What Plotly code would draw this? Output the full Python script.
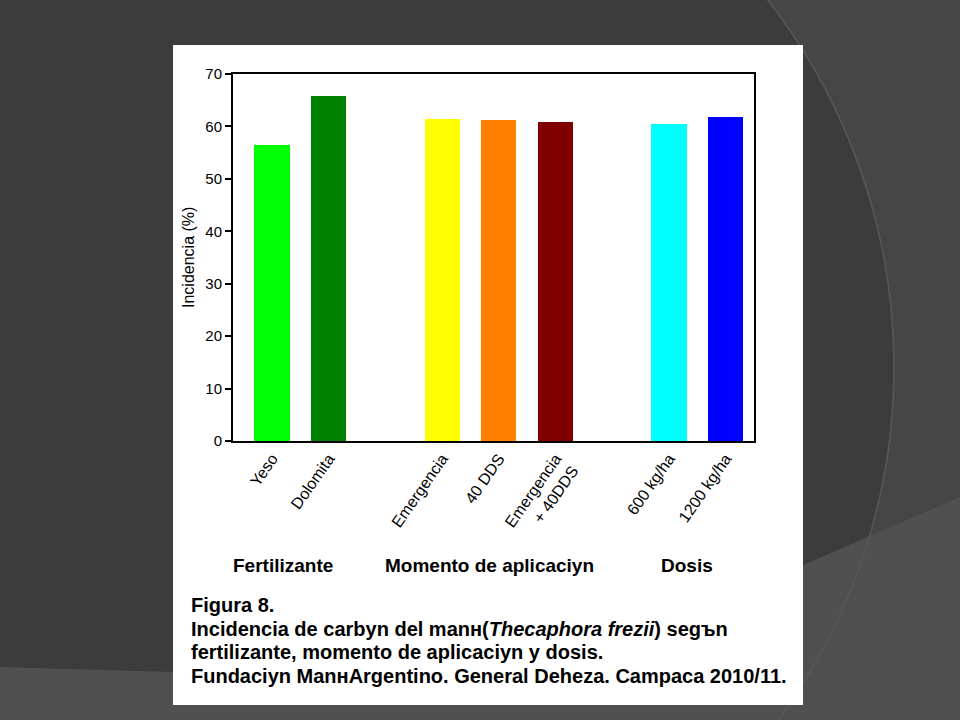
import plotly.graph_objects as go

# ---- data ----
groups = ["Fertilizante", "Momento de aplicaciyn", "Dosis"]
group_items = [
    ["Yeso", "Dolomita"],
    ["Emergencia", "40 DDS", "Emergencia<br>+ 40DDS"],
    ["600 kg/ha", "1200 kg/ha"],
]
group_values = [
    [56.5, 65.8],
    [61.4, 61.2, 60.8],
    [60.5, 61.8],
]
bar_colors = [
    ["#00ff00", "#008000"],
    ["#ffff00", "#ff8000", "#800000"],
    ["#00ffff", "#0000ff"],
]
y_ticks = [0, 10, 20, 30, 40, 50, 60, 70]
y_title = "Incidencia (%)"
caption_lines = [
    "Figura 8.",
    "Incidencia de carbyn del manн(<i>Thecaphora frezii</i>) segъn",
    "fertilizante, momento de aplicaciyn y dosis.",
    "Fundaciyn ManнArgentino. General Deheza. Campaca 2010/11.",
]

# ---- layout geometry (pixels) ----
W, H = 960, 720
PL, PR, PT, PB = 233, 754, 74, 441  # plot area


def px(x):
    return (x - PL) / (PR - PL)


def py(y):
    return (PB - y) / (PB - PT)


# positions: one empty slot between groups
xs, labels, vals, cols = [], [], [], []
slot = 0
for gi, items in enumerate(group_items):
    for j, lab in enumerate(items):
        xs.append(slot)
        labels.append(lab)
        vals.append(group_values[gi][j])
        cols.append(bar_colors[gi][j])
        slot += 1
    slot += 1

fig = go.Figure()
fig.add_trace(go.Bar(
    x=xs, y=vals, marker=dict(color=cols, line=dict(width=0)),
    width=0.62, showlegend=False, hoverinfo="skip",
))

FONT = "Liberation Sans, Arial, sans-serif"

shapes = []
# background
shapes.append(dict(type="rect", xref="paper", yref="paper",
                   x0=px(0), x1=px(W), y0=py(H), y1=py(0),
                   fillcolor="#464646", line=dict(width=0), layer="below"))
cx, cy, r = 298, 367, 596
shapes.append(dict(type="circle", xref="paper", yref="paper",
                   x0=px(cx - r), x1=px(cx + r), y0=py(cy + r), y1=py(cy - r),
                   fillcolor="#3c3c3c", line=dict(width=0), layer="below"))
band = [(0, 667), (173, 672), (803, 565), (960, 497), (960, 720), (0, 720)]
path = "M " + " L ".join(f"{px(a):.5f},{py(b):.5f}" for a, b in band) + " Z"
shapes.append(dict(type="path", xref="paper", yref="paper", path=path,
                   fillcolor="#505050", line=dict(width=0), layer="below"))
shapes.append(dict(type="circle", xref="paper", yref="paper",
                   x0=px(cx - r), x1=px(cx + r), y0=py(cy + r), y1=py(cy - r),
                   fillcolor="rgba(0,0,0,0)", line=dict(width=1.5, color="#585858"),
                   layer="below"))
# white slide box
shapes.append(dict(type="rect", xref="paper", yref="paper",
                   x0=px(173), x1=px(803), y0=py(705), y1=py(45),
                   fillcolor="#ffffff", line=dict(width=0), layer="below"))

annotations = []
annotations.append(dict(xref="paper", yref="paper", x=px(188), y=py(258),
                        text=y_title, textangle=-90, showarrow=False,
                        font=dict(family=FONT, size=16, color="black"),
                        xanchor="center", yanchor="middle"))
group_label_px = [283, 489, 687]
for g, gx in zip(groups, group_label_px):
    annotations.append(dict(xref="paper", yref="paper", x=px(gx), y=py(565),
                            text=f"<b>{g}</b>", showarrow=False,
                            font=dict(family=FONT, size=19, color="black"),
                            xanchor="center", yanchor="middle"))
cap_y = [605, 629, 652, 676]
for line, yy in zip(caption_lines, cap_y):
    annotations.append(dict(xref="paper", yref="paper", x=px(189), y=py(yy),
                            text=f"<b>{line}</b>", showarrow=False,
                            font=dict(family=FONT, size=20, color="black"),
                            xanchor="left", yanchor="middle"))

fig.update_layout(
    width=W, height=H, autosize=False,
    margin=dict(l=PL, r=W - PR, t=PT, b=H - PB, pad=0),
    paper_bgcolor="#3c3c3c", plot_bgcolor="rgba(0,0,0,0)",
    shapes=shapes, annotations=annotations,
    bargap=0,
    xaxis=dict(range=[-0.688, 8.5], tickmode="array", tickvals=xs, ticktext=labels,
               tickangle=-55, ticks="", showgrid=False, zeroline=False,
               showline=True, linecolor="black", linewidth=2, mirror=True,
               tickfont=dict(family=FONT, size=16, color="black")),
    yaxis=dict(range=[0, 70], tickmode="array", tickvals=y_ticks,
               ticks="outside", ticklen=6, tickwidth=1.5, tickcolor="black",
               showgrid=False, zeroline=False,
               showline=True, linecolor="black", linewidth=2, mirror=True,
               tickfont=dict(family=FONT, size=15, color="black")),
)

fig.write_html("out.html", config={"displayModeBar": False},
               post_script="document.body.style.margin='0';document.body.style.overflow='hidden';")
